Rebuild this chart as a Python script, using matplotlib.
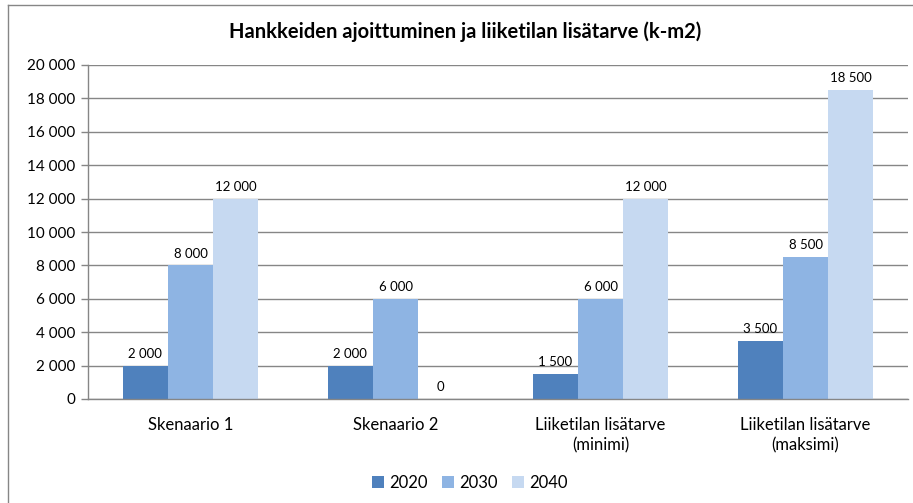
import matplotlib
matplotlib.use("Agg")
import matplotlib.pyplot as plt
from matplotlib.lines import Line2D
import numpy as np

categories = ["Skenaario 1", "Skenaario 2", "Liiketilan lisätarve\n(minimi)", "Liiketilan lisätarve\n(maksimi)"]
series_names = ["2020", "2030", "2040"]
v2020 = [2000, 2000, 1500, 3500]
v2030 = [8000, 6000, 6000, 8500]
v2040 = [12000, 0, 12000, 18500]
colors = ["#4F81BD", "#8EB4E3", "#C6D9F1"]
yticks = list(range(0, 20001, 2000))

plt.rcParams['font.family'] = ['Lato', 'DejaVu Sans']

W, H = 913, 503
fig = plt.figure(figsize=(W / 100, H / 100), dpi=100)

# plot area in pixels
left, right, top, bottom = 88, 908, 65, 399
ax = fig.add_axes([left / W, 1 - bottom / H, (right - left) / W, (bottom - top) / H])

x = np.arange(len(categories))
bw = 0.22
for i, (vals, name, c) in enumerate(zip([v2020, v2030, v2040], series_names, colors)):
    pos = x + (i - 1) * bw
    ax.bar(pos, vals, width=bw, color=c, label=name, zorder=3)
    for p, v in zip(pos, vals):
        ax.text(p, v + 350, f"{v:,}".replace(",", " "), ha="center", va="bottom",
                fontsize=9.5, color="#000000", zorder=4)

ax.set_xlim(-0.5, len(categories) - 0.5)
ax.set_ylim(0, 20000)
ax.set_yticks(yticks)
ax.set_yticklabels([f"{v:,}".replace(",", " ") for v in yticks], fontsize=11)
ax.set_xticks(x)
ax.set_xticklabels(categories, fontsize=12, linespacing=1.35)
for t in ax.get_xticklabels():
    t.set_multialignment("center")
ax.tick_params(axis="x", length=0, pad=13)
ax.tick_params(axis="y", length=5, width=1, color="#868686", pad=4)
ax.grid(axis="y", color="#868686", linewidth=1, zorder=0)
for s in ["top", "right"]:
    ax.spines[s].set_visible(False)
for s in ["left", "bottom"]:
    ax.spines[s].set_color("#868686")
    ax.spines[s].set_linewidth(1)
    ax.spines[s].set_zorder(5)

fig.text(465 / W, 1 - 32 / H, "Hankkeiden ajoittuminen ja liiketilan lisätarve (k-m2)",
         ha="center", va="center", fontsize=14.5, fontweight="bold")

leg = fig.legend(*ax.get_legend_handles_labels(), loc="center", bbox_to_anchor=(470 / W, 1 - 483 / H),
                 ncol=3, frameon=False, fontsize=12, handlelength=0.7, handleheight=0.7,
                 handletextpad=0.35, columnspacing=0.85)

# chart border (left and top visible)
fig.add_artist(Line2D([8 / W, 8 / W], [0, 1 - 5 / H], transform=fig.transFigure, color="#868686", lw=1))
fig.add_artist(Line2D([8 / W, 1], [1 - 5 / H, 1 - 5 / H], transform=fig.transFigure, color="#868686", lw=1))

fig.savefig("out.png", dpi=100)
